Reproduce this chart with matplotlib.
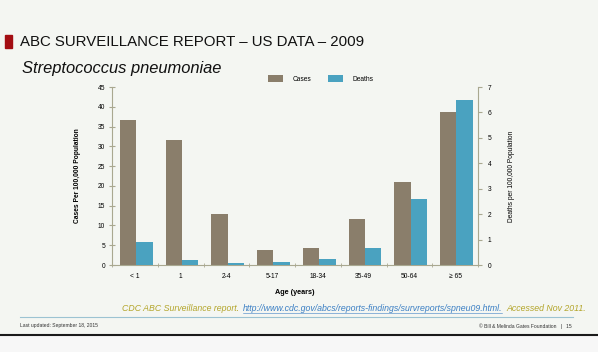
import numpy as np
import matplotlib.pyplot as plt
from matplotlib.patches import Rectangle

# Data
age_groups = ['< 1', '1', '2-4', '5-17', '18-34', '35-49', '50-64', '≥ 65']
cases = [36.7, 31.6, 13.0, 3.8, 4.2, 11.6, 20.9, 38.8]      # per 100,000 (left axis)
deaths = [0.9, 0.2, 0.07, 0.1, 0.24, 0.68, 2.6, 6.5]        # per 100,000 (right axis)

case_color = '#8a7e6b'
death_color = '#4aa2c0'
axis_color = '#a9a890'
bg = '#f4f6f2'

plt.rcParams['font.family'] = ['Liberation Sans', 'DejaVu Sans']

fig = plt.figure(figsize=(5.98, 3.52), dpi=100, facecolor=bg)

# Slide title
fig.patches.append(Rectangle((5 / 598, 1 - 48 / 352), 7 / 598, 13 / 352,
                             transform=fig.transFigure, color='#a30d12'))
fig.text(20 / 598, 1 - 42 / 352, 'ABC SURVEILLANCE REPORT – US DATA – 2009',
         fontsize=10.8, va='center', ha='left', color='#111111')
fig.text(22 / 598, 1 - 68 / 352, 'Streptococcus pneumoniae', fontsize=11.9,
         style='italic', va='center', ha='left', color='#111111')

# Chart
ax = fig.add_axes([112 / 598, 1 - 265 / 352, 366 / 598, 178 / 352])
ax.set_facecolor('none')
ax2 = ax.twinx()

x = np.arange(len(age_groups))
w = 0.36
ax.bar(x - w / 2 + 0.03, cases, width=w, color=case_color, label='Cases')
ax2.bar(x + w / 2 + 0.03, deaths, width=w, color=death_color, label='Deaths')

ax.set_xlim(-0.5, len(age_groups) - 0.5)
ax.set_ylim(0, 45)
ax.set_yticks(range(0, 46, 5))
ax2.set_ylim(0, 7)
ax2.set_yticks(range(0, 8))

ax.set_xticks(x)
ax.set_xticklabels(age_groups)
ax.set_xticks(np.arange(-0.5, len(age_groups), 1), minor=True)
ax.tick_params(axis='x', which='major', length=0, labelsize=4.8, pad=6)
ax.tick_params(axis='x', which='minor', length=3, direction='inout', color=axis_color)
ax.tick_params(axis='y', length=4, direction='inout', labelsize=4.8, color=axis_color, pad=3)
ax2.tick_params(axis='y', length=3, direction='out', labelsize=4.8, color=axis_color, pad=4)

for a in (ax, ax2):
    a.spines['top'].set_visible(False)
    for s in ('left', 'right', 'bottom'):
        a.spines[s].set_color(axis_color)
        a.spines[s].set_linewidth(0.8)
ax.spines['right'].set_visible(False)
ax2.spines['left'].set_visible(False)
ax2.spines['bottom'].set_visible(False)

ax.set_ylabel('Cases Per 100,000 Population', fontsize=4.8, fontweight='bold', labelpad=12)
ax2.set_ylabel('Deaths per 100,000 Population', fontsize=4.8, labelpad=12)
ax.set_xlabel('Age (years)', fontsize=5.2, fontweight='bold', labelpad=6)

h1, l1 = ax.get_legend_handles_labels()
h2, l2 = ax2.get_legend_handles_labels()
ax.legend(h1 + h2, l1 + l2, loc='lower left', bbox_to_anchor=(0.41, 0.99), ncol=2,
          frameon=False, fontsize=4.8, handlelength=2.2, handleheight=1.2,
          columnspacing=2.5, handletextpad=1.5)

# Source line, pieces chained one after another
src_kw = dict(fontsize=6.3, style='italic', va='baseline', ha='left')
t1 = fig.text(122 / 598, 1 - 311 / 352, 'CDC ABC Surveillance report.',
              color='#b3a52a', **src_kw)
t2 = fig.text(0, 0, 'http://www.cdc.gov/abcs/reports-findings/survreports/spneu09.html.',
              color='#3b7fc4', **src_kw)
t3 = fig.text(0, 0, 'Accessed Nov 2011.', color='#b3a52a', **src_kw)
fig.canvas.draw()
r = fig.canvas.get_renderer()
inv = fig.transFigure.inverted()
gap = 4 / 598
b1 = t1.get_window_extent(r).transformed(inv)
t2.set_position((b1.x1 + gap, 1 - 311 / 352))
b2 = t2.get_window_extent(r).transformed(inv)
t3.set_position((b2.x1 + gap, 1 - 311 / 352))
fig.add_artist(plt.Line2D([b2.x0, b2.x1], [1 - 312.5 / 352] * 2, color='#3b7fc4',
                          lw=0.4, transform=fig.transFigure))

# Footer
fig.add_artist(plt.Line2D([20 / 598, 573 / 598], [1 - 317 / 352] * 2,
                          color='#9cc3d2', lw=0.8, transform=fig.transFigure))
fig.text(20 / 598, 1 - 326 / 352, 'Last updated: September 18, 2015', fontsize=3.6,
         color='#333333', va='center', ha='left')
fig.text(572 / 598, 1 - 326 / 352, '© Bill & Melinda Gates Foundation   |   15',
         fontsize=3.6, color='#333333', va='center', ha='right')
fig.add_artist(plt.Line2D([0, 1], [1 - 335 / 352] * 2, color='#1a1a1a', lw=1.5,
                          transform=fig.transFigure))
fig.patches.append(Rectangle((0, 0), 1, 1 - 336 / 352, transform=fig.transFigure,
                             color='#f7f7f7'))

fig.savefig('out.png', dpi=100, facecolor=bg)
